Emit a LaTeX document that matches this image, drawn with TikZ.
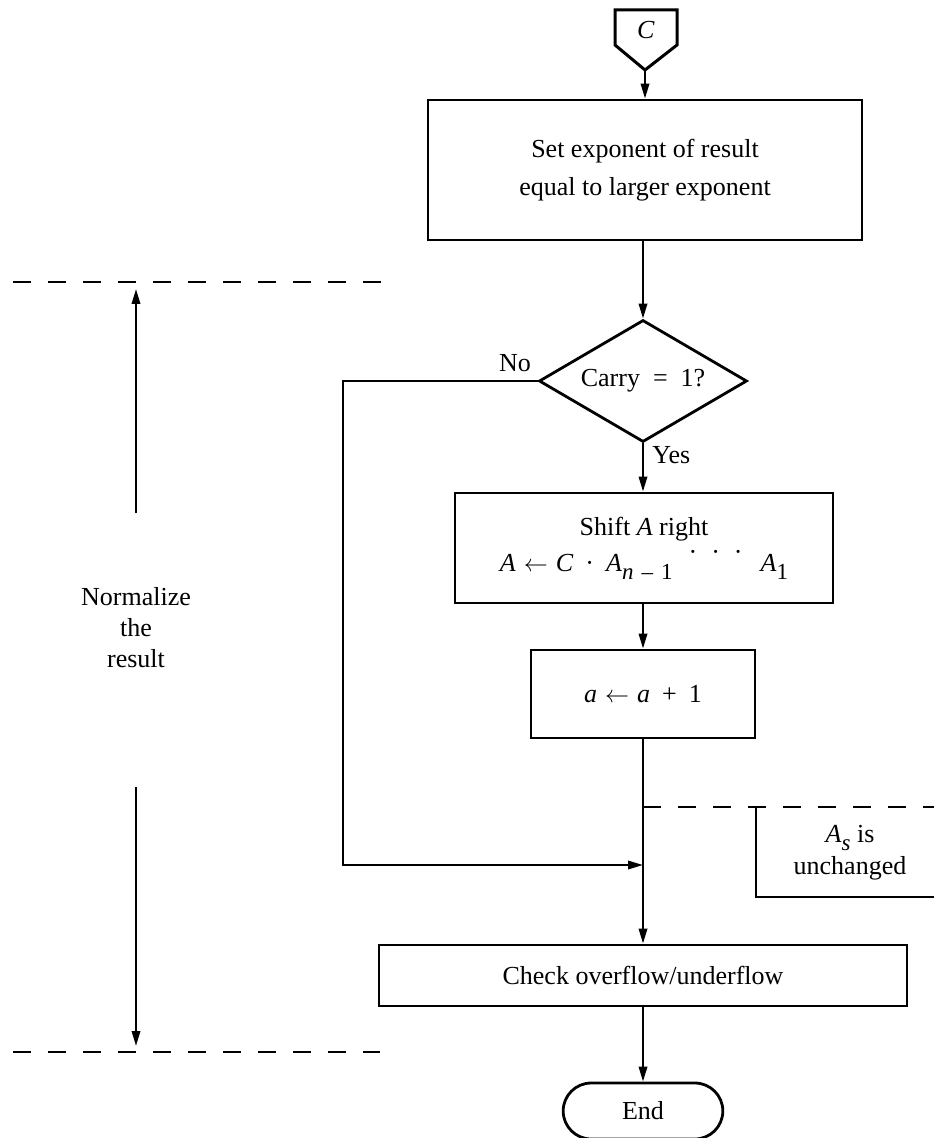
\documentclass[tikz,border=0pt]{standalone}
\usepackage{fontspec}
\setmainfont{Liberation Serif}
\usetikzlibrary{arrows.meta,shapes.geometric,shapes.misc,calc}

\tikzset{
  flowline/.style={line width=1.1pt},
  arrowline/.style={flowline, -{Triangle[length=7.5pt,width=4.2pt]}},
  boxstyle/.style={draw, line width=1.4pt, rectangle, inner sep=2pt, align=center},
  lbl/.style={inner sep=0pt, align=center},
  guide/.style={line width=1.1pt, dash pattern=on 9pt off 8.5pt},
  every node/.style={font=\fontsize{13}{17}\selectfont},
}
% lowered subscript set nearly at text size
\newcommand{\lowsub}[1]{\raisebox{-0.65ex}{\fontsize{11.5}{11.5}\selectfont #1}}
% assignment arrow
\newcommand{\assignto}{\hspace{4pt}$\leftarrow$\hspace{4pt}}

\begin{document}
\begin{tikzpicture}[x=0.5pt, y=-0.5pt]
  \useasboundingbox (0,0) rectangle (934,1138);

  % off-page connector C
  \draw[line width=1.5pt, line join=miter] (615,10) -- (677,10) -- (677,45) -- (645,70) -- (615,45) -- cycle;
  \node[lbl] (conC) at (646,30) {\textit{C}};
  \coordinate (conTip) at (645,70);

  % process blocks
  \node[boxstyle, minimum width=217pt, minimum height=70pt] (setexp) at (645,170)
    {Set exponent of result\\[2pt] equal to larger exponent};
  \node[draw, diamond, line width=1.4pt, aspect=1.7, inner sep=0pt,
        minimum width=104pt, minimum height=61pt] (carry) at (643,381)
    {Carry\enspace=\enspace1?};
  \node[boxstyle, minimum width=189pt, minimum height=55pt] (shift) at (644,548)
    {Shift \textit{A} right\\[1pt]
     \textit{A}\assignto\textit{C}\hspace{6pt}·\hspace{6pt}\textit{A}\lowsub{\textit{n}\hspace{4pt}–\hspace{4pt}1}\hspace{8pt}\raisebox{0.9ex}{·\hspace{7pt}·\hspace{7pt}·}\hspace{9pt}\textit{A}\lowsub{1}};
  \node[boxstyle, minimum width=112pt, minimum height=44pt] (incr) at (643,694)
    {\textit{a}\assignto\textit{a}\hspace{6pt}+\hspace{6pt}1};
  \node[boxstyle, minimum width=264pt, minimum height=30.5pt] (check) at (643,975.5)
    {Check overflow/underflow};
  \node[draw, rounded rectangle, line width=1.4pt, minimum width=86.5pt, minimum height=28pt] (finish) at (643,1111)
    {End};

  % flow connectors
  \draw[arrowline] (conTip) -- (conTip |- setexp.north);
  \draw[arrowline] (setexp.south -| carry.north) -- (carry.north);
  \draw[arrowline] (carry.south) -- (carry.south |- shift.north);
  \draw[arrowline] (incr.north |- shift.south) -- (incr.north);
  \coordinate (noCorner) at (343,865);
  \coordinate (merge) at (643,865);
  \draw[arrowline] (carry.west) -| (noCorner) -- (merge);
  \draw[arrowline] (incr.south) -- (check.north);
  \draw[arrowline] (check.south) -- (finish.north);

  \node[lbl, anchor=south] (nolbl) at (515,372) {No};
  \node[lbl, anchor=north west] (yeslbl) at (652,446) {Yes};

  % sign annotation
  \coordinate (signL) at (643,807);
  \coordinate (signR) at (934,807);
  \draw[guide] (signL) -- (signR);
  \draw[flowline] (756,807) -- (756,897) -- (934,897);
  \node[lbl] (signtxt) at (850,853) {\textit{A}\lowsub{\textit{s}} is\\[-1pt] unchanged};

  % normalization bracket
  \coordinate (topL) at (13,282);
  \coordinate (topR) at (395,282);
  \coordinate (botL) at (13,1052);
  \coordinate (botR) at (380,1052);
  \draw[guide] (topL) -- (topR);
  \draw[guide] (botL) -- (botR);
  \node[lbl, font=\fontsize{13}{15.5}\selectfont] (normtxt) at (136,628) {Normalize\\the\\result};
  \coordinate (upStart) at (136,513);
  \coordinate (upEnd) at (136,289);
  \coordinate (dnStart) at (136,787);
  \coordinate (dnEnd) at (136,1046);
  \draw[arrowline] (upStart) -- (upEnd);
  \draw[arrowline] (dnStart) -- (dnEnd);
\end{tikzpicture}
\end{document}
